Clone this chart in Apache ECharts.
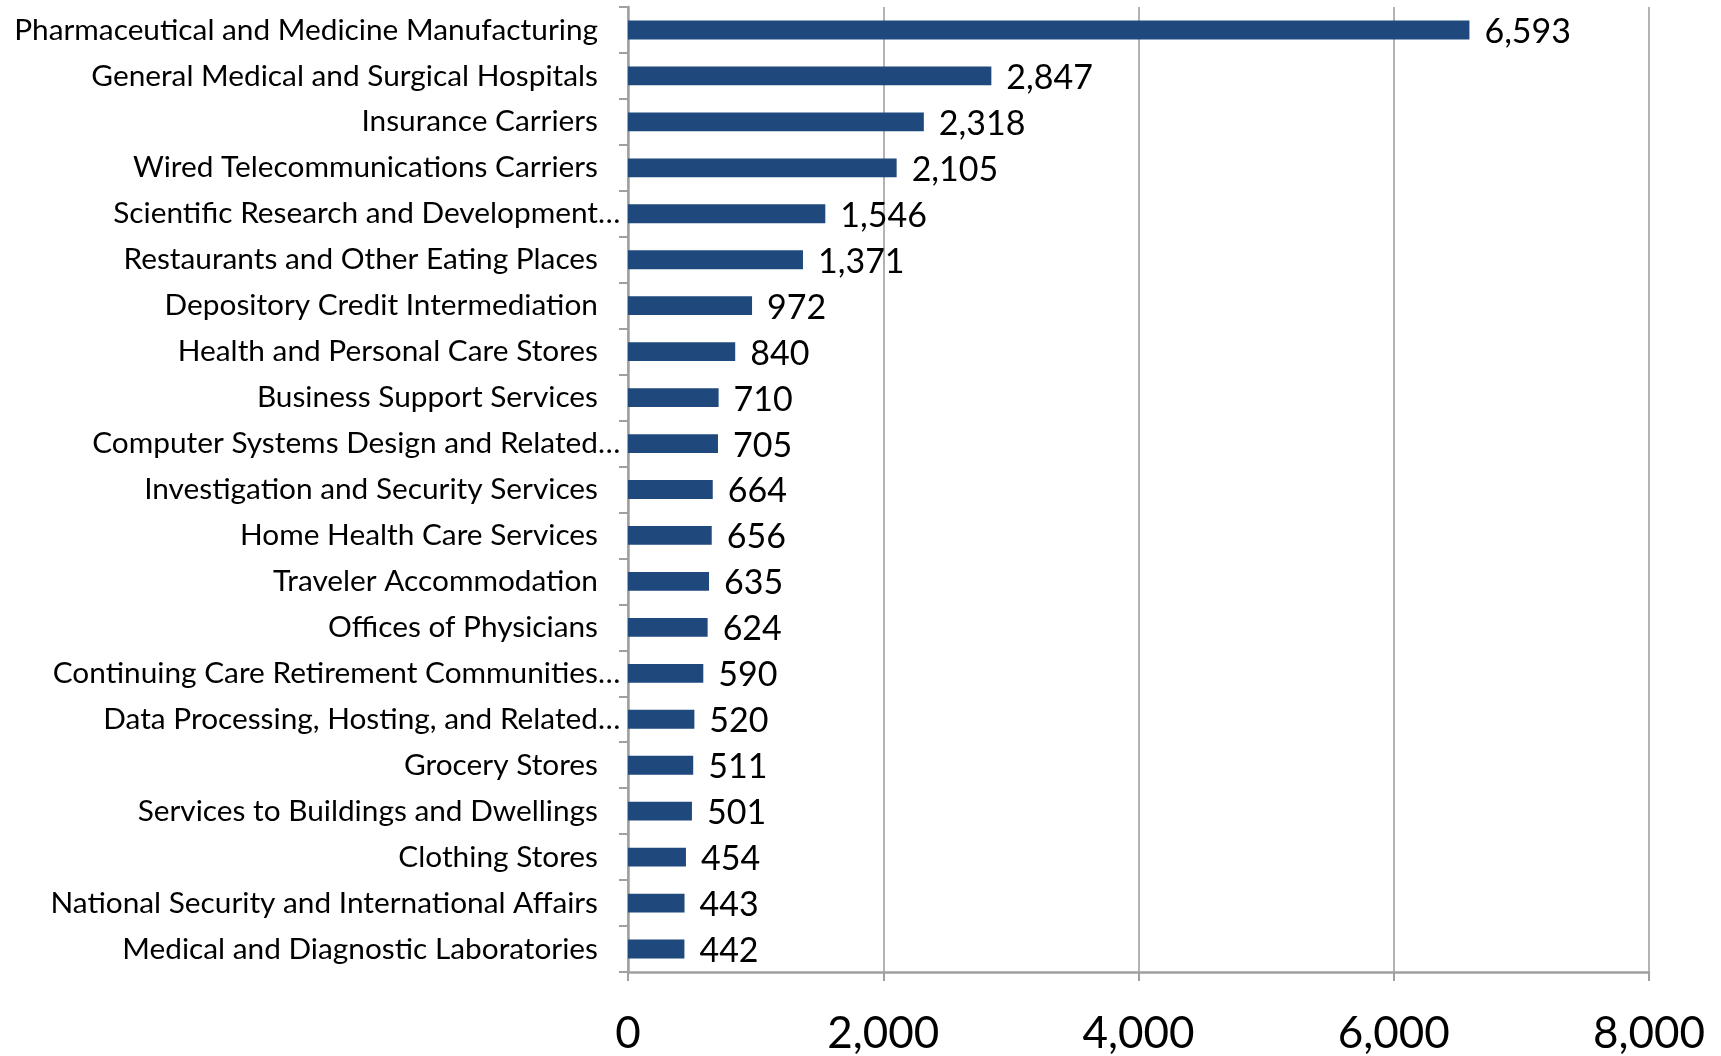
<!DOCTYPE html>
<html>
<head>
<meta charset="utf-8">
<script src="https://cdn.jsdelivr.net/npm/echarts@6/dist/echarts.min.js"></script>
<style>
html,body{margin:0;padding:0;background:#fff;}
#chart{width:1721px;height:1056px;}
</style>
</head>
<body>
<div id="chart"></div>
<script>
// Category names (text before the ellipsis) and whether Excel truncated them
const categories = [
  "Pharmaceutical and Medicine Manufacturing",
  "General Medical and Surgical Hospitals",
  "Insurance Carriers",
  "Wired Telecommunications Carriers",
  "Scientific Research and Development",
  "Restaurants and Other Eating Places",
  "Depository Credit Intermediation",
  "Health and Personal Care Stores",
  "Business Support Services",
  "Computer Systems Design and Related",
  "Investigation and Security Services",
  "Home Health Care Services",
  "Traveler Accommodation",
  "Offices of Physicians",
  "Continuing Care Retirement Communities",
  "Data Processing, Hosting, and Related",
  "Grocery Stores",
  "Services to Buildings and Dwellings",
  "Clothing Stores",
  "National Security and International Affairs",
  "Medical and Diagnostic Laboratories"
];
const truncated = [
  "Scientific Research and Development",
  "Computer Systems Design and Related",
  "Continuing Care Retirement Communities",
  "Data Processing, Hosting, and Related"
];
const values = [6593, 2847, 2318, 2105, 1546, 1371, 972, 840, 710, 705, 664, 656, 635, 624, 590, 520, 511, 501, 454, 443, 442];
const xTicks = [0, 2000, 4000, 6000, 8000];

const FONT = 'Lato';
const CAT_SIZE = 29.8;
const chart = echarts.init(document.getElementById('chart'));
chart.setOption({
  backgroundColor: '#ffffff',
  animation: false,
  grid: { left: 628, right: 72, top: 7, bottom: 73, containLabel: false },
  xAxis: {
    type: 'value',
    min: xTicks[0],
    max: xTicks[xTicks.length - 1],
    interval: xTicks[1] - xTicks[0],
    axisLine: { show: true, lineStyle: { color: '#a0a0a0', width: 2.5 } },
    axisTick: { show: true, length: 9, lineStyle: { color: '#a0a0a0', width: 2 } },
    splitLine: { show: true, lineStyle: { color: '#a0a0a0', width: 1.6 } },
    axisLabel: {
      fontFamily: FONT, fontSize: 44, color: '#000', margin: 40,
      formatter: v => v.toLocaleString('en-US')
    }
  },
  yAxis: {
    type: 'category',
    inverse: true,
    data: categories,
    axisLine: { show: true, lineStyle: { color: '#a0a0a0', width: 2.5 } },
    axisTick: { show: true, length: 9, alignWithLabel: false, lineStyle: { color: '#a0a0a0', width: 2 } },
    splitLine: { show: false },
    axisLabel: {
      fontFamily: FONT, fontSize: CAT_SIZE, color: '#000', margin: 30, interval: 0,
      formatter: v => truncated.includes(v) ? '{t|' + v + '}{e|\u2026}' : '{t|' + v + '}',
      rich: {
        t: { fontFamily: FONT, fontSize: CAT_SIZE, color: '#000', align: 'left' },
        e: { fontFamily: FONT, fontSize: CAT_SIZE, color: '#000', width: 0, align: 'left' }
      }
    }
  },
  series: [{
    type: 'bar',
    data: values,
    barCategoryGap: '59%',
    itemStyle: { color: '#1F497D' },
    label: {
      show: true, position: 'right', distance: 15, offset: [0, 2],
      fontFamily: FONT, fontSize: 34, color: '#000',
      formatter: p => p.value.toLocaleString('en-US')
    }
  }]
});
</script>
</body>
</html>
